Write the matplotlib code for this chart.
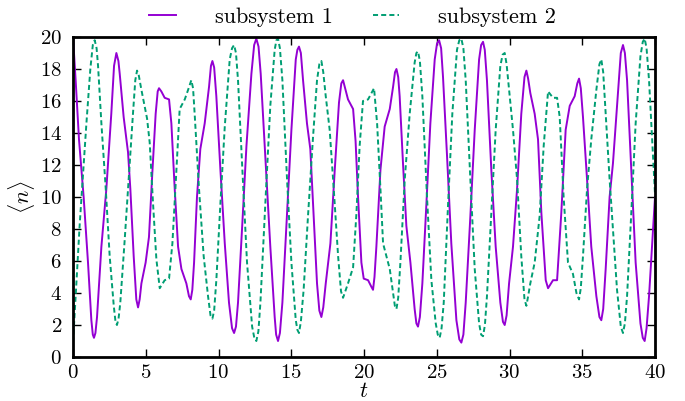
import matplotlib
matplotlib.use("Agg")
import matplotlib.pyplot as plt

# values
t1 = [0.0, 0.18, 0.41, 0.73, 1.03, 1.26, 1.36, 1.44, 1.54, 1.65,
      1.95, 2.29, 2.63, 2.82, 2.98, 3.12, 3.21, 3.48, 3.78, 3.94,
      4.17, 4.35, 4.47, 4.58, 4.70, 4.99, 5.22, 5.45, 5.68, 5.82,
      5.91, 6.07, 6.30, 6.60, 6.76, 6.99, 7.22, 7.45, 7.79, 7.97,
      8.09, 8.20, 8.32, 8.52, 8.75, 9.05, 9.35, 9.48, 9.58, 9.70,
      9.85, 10.13, 10.43, 10.72, 10.93, 11.07, 11.20, 11.34, 11.64, 11.92,
      12.26, 12.45, 12.60, 12.75, 12.90, 13.24, 13.56, 13.86, 13.96, 14.09,
      14.22, 14.39, 14.71, 15.01, 15.31, 15.42, 15.53, 15.66, 15.81, 16.08,
      16.31, 16.54, 16.77, 16.93, 17.07, 17.20, 17.37, 17.69, 17.99, 18.28,
      18.44, 18.56, 18.70, 18.90, 19.25, 19.42, 19.59, 19.82, 19.98, 20.28,
      20.50, 20.62, 20.72, 20.85, 21.13, 21.42, 21.77, 22.00, 22.13, 22.23,
      22.35, 22.45, 22.68, 22.91, 23.19, 23.48, 23.60, 23.71, 23.84, 24.01,
      24.29, 24.56, 24.86, 25.02, 25.16, 25.30, 25.43, 25.71, 26.00, 26.35,
      26.55, 26.69, 26.83, 26.99, 27.31, 27.61, 27.91, 28.05, 28.18, 28.30,
      28.45, 28.75, 29.05, 29.37, 29.55, 29.67, 29.80, 29.97, 30.24, 30.52,
      30.81, 31.03, 31.16, 31.28, 31.43, 31.73, 31.96, 32.19, 32.49, 32.65,
      32.99, 33.27, 33.56, 33.86, 34.14, 34.48, 34.66, 34.78, 34.90, 35.05,
      35.33, 35.62, 35.97, 36.18, 36.31, 36.44, 36.61, 36.88, 37.11, 37.39,
      37.65, 37.80, 37.93, 38.08, 38.37, 38.67, 39.00, 39.16, 39.29, 39.42,
      39.59, 39.91, 40.0]
n1 = [20.0, 17.3, 13.6, 10.0, 5.9, 2.3, 1.4, 1.2, 1.5, 2.5,
      6.9, 10.5, 15.2, 18.2, 19.0, 18.5, 17.7, 15.0, 12.8, 10.5,
      6.3, 3.6, 3.1, 3.6, 4.6, 5.9, 7.5, 11.5, 15.2, 16.6,
      16.8, 16.6, 16.2, 16.1, 14.6, 10.5, 6.9, 5.5, 4.6, 3.8,
      3.6, 4.2, 5.9, 10.0, 13.0, 14.6, 16.9, 18.2, 18.5, 18.1,
      16.3, 11.7, 7.1, 3.4, 1.8, 1.5, 1.9, 3.4, 8.4, 13.2,
      17.7, 19.5, 19.9, 19.4, 17.7, 12.1, 6.9, 2.5, 1.4, 1.0,
      1.5, 3.4, 9.0, 14.2, 18.6, 19.2, 19.4, 19.0, 17.3, 14.6,
      13.0, 8.8, 4.6, 2.9, 2.5, 3.1, 4.6, 7.1, 11.7, 15.9,
      17.1, 17.3, 16.8, 16.1, 15.5, 13.5, 10.0, 5.9, 4.9, 4.8,
      4.4, 4.2, 5.0, 6.9, 11.7, 14.4, 15.5, 16.9, 17.8, 18.0,
      17.5, 16.3, 12.1, 8.2, 5.9, 3.0, 2.1, 1.9, 2.5, 4.6,
      9.6, 14.6, 18.6, 19.6, 19.8, 19.3, 17.5, 12.5, 7.1, 2.3,
      1.1, 0.9, 1.4, 3.4, 8.8, 14.2, 18.6, 19.5, 19.7, 19.2,
      17.3, 11.7, 6.9, 3.4, 2.2, 2.0, 2.6, 4.6, 6.9, 10.5,
      15.2, 17.5, 17.9, 17.4, 16.5, 15.2, 13.6, 9.0, 4.8, 4.3,
      4.8, 4.8, 9.0, 14.2, 15.7, 16.3, 17.1, 17.4, 16.8, 15.0,
      11.1, 6.9, 3.8, 2.5, 2.3, 3.0, 5.5, 10.0, 12.1, 15.7,
      19.0, 19.5, 19.0, 17.3, 11.7, 5.9, 2.1, 1.2, 1.0, 1.8,
      3.8, 8.6, 10.0]

t2 = [0.0, 0.23, 0.46, 0.69, 0.92, 1.19, 1.36, 1.49, 1.62, 1.72,
      1.95, 2.25, 2.52, 2.80, 2.92, 3.02, 3.13, 3.25, 3.55, 3.85,
      4.12, 4.28, 4.40, 4.52, 4.70, 5.09, 5.27, 5.50, 5.73, 5.96,
      6.30, 6.60, 6.83, 7.06, 7.33, 7.68, 7.91, 8.13, 8.25, 8.36,
      8.66, 8.98, 9.28, 9.45, 9.58, 9.70, 9.85, 10.13, 10.43, 10.77,
      10.93, 11.07, 11.20, 11.34, 11.64, 11.96, 12.31, 12.46, 12.60, 12.74,
      12.88, 13.24, 13.56, 13.86, 13.98, 14.09, 14.22, 14.39, 14.71, 15.01,
      15.31, 15.42, 15.53, 15.66, 15.85, 16.15, 16.50, 16.77, 16.93, 17.07,
      17.20, 17.37, 17.64, 17.92, 18.22, 18.42, 18.56, 18.90, 19.25, 19.48,
      19.70, 19.93, 20.28, 20.51, 20.69, 20.90, 21.13, 21.31, 21.77, 22.00,
      22.12, 22.23, 22.35, 22.50, 22.80, 23.14, 23.48, 23.60, 23.71, 23.84,
      24.01, 24.33, 24.63, 24.93, 25.07, 25.20, 25.33, 25.48, 25.78, 26.07,
      26.39, 26.55, 26.69, 26.83, 26.99, 27.31, 27.61, 27.91, 28.05, 28.18,
      28.31, 28.45, 28.75, 29.05, 29.37, 29.53, 29.67, 29.80, 29.97, 30.24,
      30.52, 30.81, 31.03, 31.16, 31.28, 31.43, 31.73, 32.07, 32.35, 32.65,
      32.99, 33.27, 33.45, 33.72, 34.02, 34.36, 34.60, 34.78, 34.90, 35.05,
      35.33, 35.62, 35.97, 36.18, 36.31, 36.44, 36.61, 36.88, 37.11, 37.39,
      37.65, 37.80, 37.93, 38.08, 38.37, 38.67, 39.00, 39.16, 39.29, 39.42,
      39.59, 39.91, 40.0]
n2 = [0.9, 4.6, 8.3, 11.4, 14.6, 18.0, 19.5, 19.8, 19.3, 18.2,
      14.6, 10.5, 6.3, 3.2, 2.2, 2.0, 2.4, 3.4, 7.3, 11.5,
      15.2, 17.3, 17.9, 17.6, 16.7, 14.9, 13.4, 9.6, 6.1, 4.3,
      4.8, 4.9, 7.1, 10.9, 15.5, 16.1, 16.7, 17.3, 16.8, 15.2,
      10.5, 6.3, 3.8, 2.6, 2.4, 2.9, 4.8, 9.6, 14.4, 18.6,
      19.3, 19.5, 19.0, 17.3, 11.7, 5.9, 1.9, 1.2, 1.0, 1.6,
      3.4, 10.0, 15.7, 19.2, 19.8, 19.9, 19.3, 17.3, 11.1, 5.9,
      2.3, 1.7, 1.5, 2.2, 4.2, 8.8, 13.8, 17.3, 18.3, 18.5,
      17.8, 16.3, 14.2, 10.5, 6.3, 4.1, 3.7, 4.6, 5.6, 9.0,
      13.2, 16.0, 16.1, 16.5, 16.8, 14.6, 10.5, 7.1, 5.5, 4.0,
      3.2, 3.0, 3.7, 5.9, 11.1, 15.2, 18.4, 19.0, 19.1, 18.5,
      16.3, 10.0, 4.8, 2.1, 1.4, 1.2, 1.8, 3.4, 9.6, 15.2,
      19.2, 19.8, 19.9, 19.3, 17.3, 11.1, 5.5, 2.1, 1.4, 1.3,
      2.0, 3.8, 9.0, 14.2, 18.2, 18.9, 19.0, 18.3, 16.7, 14.2,
      11.1, 6.3, 3.6, 3.2, 3.8, 4.6, 5.9, 8.8, 13.2, 16.6,
      16.2, 16.2, 15.0, 10.0, 5.9, 5.2, 4.0, 3.6, 4.3, 6.3,
      10.5, 13.6, 16.7, 18.3, 18.6, 17.8, 15.2, 11.1, 8.0, 4.2,
      1.9, 1.5, 2.1, 3.8, 9.0, 14.6, 18.8, 19.7, 19.9, 19.3,
      17.3, 11.7, 10.2]

xticks = list(range(0, 41, 5))
yticks = list(range(0, 21, 2))

plt.rcParams['font.family'] = 'cmr10'
plt.rcParams['mathtext.fontset'] = 'cm'
plt.rcParams['axes.formatter.use_mathtext'] = True

fig = plt.figure(figsize=(6.85, 4.01), dpi=100)
ax = fig.add_axes([0.1066, 0.1097, 0.8496, 0.798])

ax.plot(t1, n1, color='#9400D3', lw=1.4, label='subsystem 1')
ax.plot(t2, n2, color='#009E73', lw=1.4, dashes=(2.6, 1.6), label='subsystem 2')

ax.set_xlim(0, 40)
ax.set_ylim(0, 20)
ax.set_xticks(xticks)
ax.set_yticks(yticks)
ax.tick_params(direction='in', top=True, right=True, length=6, width=1,
               labelsize=15)
ax.tick_params(axis='y', pad=8)
ax.tick_params(axis='x', pad=5)
for s in ax.spines.values():
    s.set_linewidth(2)

ax.set_xlabel('$t$', fontsize=16, labelpad=0)
ax.set_ylabel(r'$\langle n \rangle$', fontsize=16, labelpad=2)

fig.legend(loc='center', bbox_to_anchor=(0.515, 0.958), ncol=2, frameon=False,
           fontsize=16, handlelength=1.2, columnspacing=1.8, handletextpad=1.75)

fig.savefig('out.png', dpi=100)
